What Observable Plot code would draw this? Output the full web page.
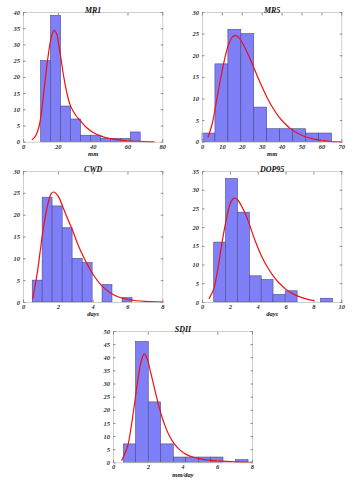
<!DOCTYPE html>
<html>
<head>
<meta charset="utf-8">
<script src="https://cdn.jsdelivr.net/npm/d3@7"></script>
<script src="https://cdn.jsdelivr.net/npm/@observablehq/plot@0.6"></script>
<style>
  html, body { margin: 0; padding: 0; background: #fff; }
  #wrap { position: relative; width: 358px; height: 480px; overflow: hidden; }
  .panel { position: absolute; }
  .panel svg { overflow: visible; }
</style>
</head>
<body>
<div id="wrap"></div>
<script>
// ---- MR1 ----
const mr1Edges = [10.1, 15.8, 21.6, 27.3, 33.0, 38.7, 44.5, 50.2, 55.9, 61.6, 67.3];
const mr1Counts = [25, 39, 11, 7, 2, 2, 1, 1, 1, 3];
const mr1CurveX = [5, 7, 9, 10.1, 12, 14, 16, 17.5, 19, 20.5, 21.6, 23, 25, 27, 30, 33, 36, 40, 45, 50, 55, 60, 67, 75];
const mr1CurveY = [0.8, 2, 5, 8.5, 17, 26, 32.5, 34.5, 33.5, 29, 25.5, 20.5, 15, 11.2, 8.3, 6.4, 4.6, 3, 1.8, 1.1, 0.7, 0.45, 0.25, 0.1];
const mr1XTicks = [0, 20, 40, 60, 80];
const mr1YTicks = [0, 5, 10, 15, 20, 25, 30, 35, 40];

// ---- MR5 ----
const mr5Edges = [0, 6.5, 13.0, 19.5, 26.0, 32.5, 39.0, 45.6, 52.1, 58.6, 65.1];
const mr5Counts = [2, 18, 26, 25, 8, 3, 3, 3, 2, 2];
const mr5CurveX = [2.8, 5, 7, 9, 11, 13, 15, 16.5, 18, 20, 22, 24, 26, 28, 30, 32.5, 35, 38, 41, 44, 48, 52, 56, 60, 65, 70];
const mr5CurveY = [1.2, 4.5, 9.5, 14.5, 19, 22.5, 24.3, 24.7, 24.3, 23, 21.2, 19.2, 17, 14.8, 12.7, 10.3, 8.2, 6.1, 4.5, 3.2, 2, 1.2, 0.7, 0.4, 0.15, 0.05];
const mr5XTicks = [0, 10, 20, 30, 40, 50, 60, 70];
const mr5YTicks = [0, 5, 10, 15, 20, 25, 30];

// ---- CWD ----
const cwdEdges = [0.53, 1.10, 1.67, 2.25, 2.82, 3.40, 3.97, 4.54, 5.11, 5.69, 6.26];
const cwdCounts = [5, 24, 22, 17, 10, 9, 0, 4, 0, 1];
const cwdCurveX = [0.53, 0.8, 1.0, 1.2, 1.4, 1.6, 1.75, 2.0, 2.25, 2.5, 2.82, 3.1, 3.4, 3.7, 4.0, 4.5, 5.0, 5.5, 6.0, 6.5, 7.0, 8.0];
const cwdCurveY = [0.9, 7, 13, 18.5, 22.5, 25, 25.3, 24.3, 22, 19.5, 16.5, 13.5, 10.8, 8.5, 6.4, 3.8, 2.2, 1.2, 0.7, 0.4, 0.25, 0.1];
const cwdXTicks = [0, 2, 4, 6, 8];
const cwdYTicks = [0, 5, 10, 15, 20, 25, 30];

// ---- DOP95 ----
const dopEdges = [0.84, 1.69, 2.55, 3.41, 4.25, 5.10, 5.97, 6.83, 7.68, 8.52, 9.38];
const dopCounts = [16, 33, 24, 7, 6, 2, 3, 0, 0, 1];
const dopCurveX = [0.48, 0.8, 1.1, 1.4, 1.7, 2.0, 2.25, 2.5, 2.8, 3.1, 3.4, 3.8, 4.25, 4.7, 5.1, 5.5, 6.0, 6.5, 7.0, 7.5, 8.0];
const dopCurveY = [1.1, 3.5, 9, 16, 22, 26.5, 27.9, 27.5, 25.8, 23.5, 20.5, 16.3, 12.3, 9.2, 7, 5.2, 3.5, 2.3, 1.5, 0.9, 0.5];
const dopXTicks = [0, 2, 4, 6, 8, 10];
const dopYTicks = [0, 5, 10, 15, 20, 25, 30, 35];

// ---- SDII ----
const sdiiEdges = [0.60, 1.30, 2.03, 2.74, 3.47, 4.18, 4.91, 5.62, 6.33, 7.06, 7.77];
const sdiiCounts = [7, 46, 23, 7, 2, 2, 2, 2, 0, 1];
const sdiiCurveX = [0.48, 0.8, 1.0, 1.2, 1.4, 1.6, 1.77, 1.95, 2.1, 2.3, 2.5, 2.74, 3.0, 3.2, 3.47, 3.8, 4.18, 4.6, 5.0, 5.5, 6.0, 7.0, 8.0];
const sdiiCurveY = [1, 6, 13, 22, 31.5, 38.8, 41.5, 39.5, 35.5, 30, 24.5, 18.5, 13.5, 10.5, 7.5, 5, 3.2, 2.1, 1.5, 1, 0.7, 0.35, 0.2];
const sdiiXTicks = [0, 2, 4, 6, 8];
const sdiiYTicks = [0, 5, 10, 15, 20, 25, 30, 35, 40, 45, 50];

const FONT = "'Liberation Serif', 'DejaVu Serif', serif";
const BAR_FILL = "#7f7ff7";
const BAR_STROKE = "#4a4a8a";
const FRAME = "#c4c4c4";
const TICK = "#8a8a8a";

function panel(cfg) {
  const ml = 20, mr = 8, mt = 12, mb = 18;
  const w = cfg.right - cfg.left, h = cfg.bottom - cfg.top;
  const bars = cfg.counts.map((c, i) => ({x1: cfg.edges[i], x2: cfg.edges[i + 1], y: c})).filter(d => d.y > 0);
  const curve = cfg.cx.map((x, i) => ({x, y: cfg.cy[i]}));
  const p = Plot.plot({
    width: w + ml + mr,
    height: h + mt + mb,
    marginLeft: ml, marginRight: mr, marginTop: mt, marginBottom: mb,
    style: {fontFamily: FONT, fontSize: "6.5px", fontWeight: "bold", fontStyle: "italic", background: "transparent", color: "#333"},
    x: {domain: cfg.xdom, label: null},
    y: {domain: cfg.ydom, label: null},
    marks: [
      Plot.rect(bars, {x1: "x1", x2: "x2", y1: 0, y2: "y", fill: BAR_FILL, stroke: BAR_STROKE, strokeWidth: 0.6}),
      Plot.line(curve, {x: "x", y: "y", stroke: "#f01010", strokeWidth: 1.2, curve: "catmull-rom"}),
      Plot.frame({stroke: FRAME, strokeWidth: 0.8}),
      Plot.axisX(cfg.xt, {anchor: "bottom", tickSize: -2.5, tickPadding: 4.5, stroke: TICK, label: null, fill: "#333"}),
      Plot.axisX(cfg.xt, {anchor: "top", tickSize: -2.5, tickFormat: () => "", stroke: TICK, label: null}),
      Plot.axisY(cfg.yt, {anchor: "left", tickSize: -2.5, tickPadding: 6, stroke: TICK, label: null, fill: "#333"}),
      Plot.axisY(cfg.yt, {anchor: "right", tickSize: -2.5, tickFormat: () => "", stroke: TICK, label: null}),
      Plot.text([cfg.title], {frameAnchor: "top", dy: -5, fontSize: 8, fill: "#111"}),
      Plot.text([cfg.xlabel], {frameAnchor: "bottom", dy: 14, fontSize: 6.5, fill: "#111"})
    ]
  });
  const div = document.createElement("div");
  div.className = "panel";
  div.style.left = (cfg.left - ml) + "px";
  div.style.top = (cfg.top - mt) + "px";
  div.appendChild(p);
  document.getElementById("wrap").appendChild(div);
}

panel({title: "MR1", xlabel: "mm", left: 22.7, right: 162, top: 12.3, bottom: 142,
  edges: mr1Edges, counts: mr1Counts, cx: mr1CurveX, cy: mr1CurveY, xdom: [0, 80], ydom: [0, 40], xt: mr1XTicks, yt: mr1YTicks});
panel({title: "MR5", xlabel: "mm", left: 201.7, right: 341, top: 12.3, bottom: 142,
  edges: mr5Edges, counts: mr5Counts, cx: mr5CurveX, cy: mr5CurveY, xdom: [0, 70], ydom: [0, 30], xt: mr5XTicks, yt: mr5YTicks});
panel({title: "CWD", xlabel: "days", left: 22.7, right: 162, top: 170.7, bottom: 301.7,
  edges: cwdEdges, counts: cwdCounts, cx: cwdCurveX, cy: cwdCurveY, xdom: [0, 8], ydom: [0, 30], xt: cwdXTicks, yt: cwdYTicks});
panel({title: "DOP95", xlabel: "days", left: 201.7, right: 341, top: 170.7, bottom: 301.7,
  edges: dopEdges, counts: dopCounts, cx: dopCurveX, cy: dopCurveY, xdom: [0, 10], ydom: [0, 35], xt: dopXTicks, yt: dopYTicks});
panel({title: "SDII", xlabel: "mm/day", left: 112.7, right: 251.7, top: 330.7, bottom: 462,
  edges: sdiiEdges, counts: sdiiCounts, cx: sdiiCurveX, cy: sdiiCurveY, xdom: [0, 8], ydom: [0, 50], xt: sdiiXTicks, yt: sdiiYTicks});
</script>
</body>
</html>
